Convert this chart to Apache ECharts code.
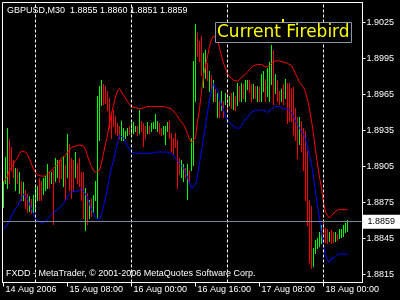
<!DOCTYPE html>
<html><head><meta charset="utf-8">
<style>html,body{margin:0;padding:0;background:#000;}#c{width:400px;height:300px;}</style>
<script src="https://cdn.jsdelivr.net/npm/echarts@6/dist/echarts.min.js"></script>
</head><body><div id="c"></div>
<script>
const symbolName = 'GBPUSD,M30';
const lastBar = [1.8855, 1.8860, 1.8851, 1.8859];
const tickLabels = ['14 Aug 2006','15 Aug 08:00','16 Aug 00:00','16 Aug 16:00','17 Aug 08:00','18 Aug 00:00'];
const tickEvery = 32;
const daySeparators = [16, 64, 112, 160];
const priceTicks = [1.8815,1.8845,1.8875,1.8905,1.8935,1.8965,1.8995,1.9025];
const priceMin = 1.88083, priceMax = 1.90417;
const currentPrice = 1.8859;
const slotCount = 180;
const footerText = 'FXDD - MetaTrader, \u00a9 2001-2006 MetaQuotes Software Corp.';
const indicatorLabel = 'Current Firebird';

const upperBand = [1.8892,1.8893,1.8897,1.8902,1.8904,1.8907,1.8910,1.8912,1.8916,1.8918,
 1.8919,1.8917,1.8915,1.8911,1.8907,1.8903,1.8900,1.8898,1.8897,1.8897,
 1.8897,1.8897,1.8899,1.8900,1.8902,1.8903,1.8905,1.8907,1.8909,1.8912,
 1.8912,1.8914,1.8917,1.8919,1.8921,1.8922,1.8922,1.8922,1.8923,1.8924,
 1.8922,1.8919,1.8914,1.8909,1.8905,1.8902,1.8900,1.8899,1.8902,1.8908,
 1.8916,1.8924,1.8931,1.8941,1.8949,1.8956,1.8963,1.8968,1.8970,1.8967,
 1.8966,1.8962,1.8959,1.8957,1.8955,1.8954,1.8954,1.8953,1.8953,1.8954,
 1.8954,1.8955,1.8955,1.8955,1.8955,1.8955,1.8955,1.8955,1.8955,1.8955,
 1.8955,1.8955,1.8954,1.8954,1.8953,1.8952,1.8949,1.8947,1.8944,1.8942,
 1.8940,1.8937,1.8932,1.8928,1.8925,1.8924,1.8929,1.8942,1.8953,1.8967,
 1.8981,1.8989,1.8997,1.9005,1.9011,1.9014,1.9013,1.9010,1.9004,1.8997,
 1.8991,1.8987,1.8982,1.8980,1.8979,1.8977,1.8977,1.8976,1.8977,1.8979,
 1.8980,1.8982,1.8984,1.8986,1.8987,1.8989,1.8990,1.8990,1.8990,1.8990,
 1.8989,1.8988,1.8988,1.8989,1.8991,1.8992,1.8993,1.8993,1.8993,1.8993,
 1.8992,1.8991,1.8991,1.8991,1.8989,1.8986,1.8982,1.8979,1.8975,1.8973,
 1.8971,1.8967,1.8961,1.8953,1.8943,1.8932,1.8919,1.8907,1.8896,1.8887,
 1.8875,1.8867,1.8864,1.8862,1.8864,1.8866,1.8867,1.8869,1.8869,1.8869,
 1.8869,1.8869,1.8869];

const lowerBand = [1.8853,1.8854,1.8857,1.8860,1.8864,1.8867,1.8870,1.8872,1.8875,1.8879,
 1.8882,1.8881,1.8878,1.8874,1.8870,1.8865,1.8862,1.8860,1.8859,1.8858,
 1.8858,1.8859,1.8861,1.8862,1.8865,1.8867,1.8868,1.8869,1.8871,1.8872,
 1.8874,1.8877,1.8880,1.8882,1.8884,1.8884,1.8884,1.8883,1.8885,1.8887,
 1.8887,1.8882,1.8879,1.8874,1.8869,1.8866,1.8862,1.8861,1.8861,1.8865,
 1.8872,1.8879,1.8887,1.8896,1.8904,1.8910,1.8917,1.8925,1.8931,1.8932,
 1.8929,1.8925,1.8922,1.8919,1.8917,1.8917,1.8916,1.8916,1.8916,1.8916,
 1.8916,1.8916,1.8916,1.8916,1.8916,1.8917,1.8917,1.8917,1.8917,1.8917,
 1.8917,1.8917,1.8917,1.8917,1.8916,1.8915,1.8912,1.8911,1.8907,1.8906,
 1.8904,1.8900,1.8896,1.8891,1.8887,1.8887,1.8890,1.8897,1.8908,1.8918,
 1.8929,1.8939,1.8950,1.8961,1.8968,1.8974,1.8973,1.8969,1.8962,1.8957,
 1.8952,1.8947,1.8943,1.8942,1.8940,1.8939,1.8937,1.8936,1.8937,1.8939,
 1.8942,1.8943,1.8946,1.8948,1.8950,1.8951,1.8952,1.8952,1.8952,1.8952,
 1.8952,1.8951,1.8950,1.8951,1.8953,1.8954,1.8955,1.8955,1.8955,1.8955,
 1.8953,1.8953,1.8953,1.8953,1.8950,1.8947,1.8943,1.8940,1.8937,1.8934,
 1.8932,1.8928,1.8921,1.8914,1.8907,1.8896,1.8884,1.8872,1.8862,1.8850,
 1.8839,1.8831,1.8827,1.8825,1.8828,1.8829,1.8830,1.8832,1.8832,1.8832,
 1.8832,1.8832,1.8832];

const highs = [1.8893,1.8913,1.8937,1.8928,1.8921,1.8910,1.8904,1.8903,1.8900,1.8893,
 1.8892,1.8885,1.8882,1.8880,1.8878,1.8881,1.8889,1.8889,1.8895,1.8893,
 1.8895,1.8897,1.8907,1.8900,1.8900,1.8902,1.8912,1.8910,1.8910,1.8910,
 1.8914,1.8906,1.8932,1.8924,1.8912,1.8910,1.8917,1.8908,1.8912,1.8900,
 1.8900,1.8887,1.8883,1.8877,1.8878,1.8881,1.8893,1.8964,1.8972,1.8977,
 1.8974,1.8972,1.8968,1.8962,1.8949,1.8952,1.8947,1.8941,1.8939,1.8943,
 1.8937,1.8935,1.8937,1.8939,1.8941,1.8942,1.8939,1.8939,1.8952,1.8943,
 1.8941,1.8939,1.8942,1.8939,1.8941,1.8942,1.8949,1.8943,1.8941,1.8937,
 1.8939,1.8939,1.8942,1.8943,1.8933,1.8929,1.8933,1.8927,1.8912,1.8910,
 1.8907,1.8904,1.8907,1.8902,1.8929,1.8993,1.9024,1.9016,1.9010,1.9014,
 1.9000,1.9002,1.8991,1.8985,1.8981,1.8977,1.8970,1.8966,1.8960,1.8968,
 1.8960,1.8966,1.8966,1.8964,1.8966,1.8967,1.8964,1.8975,1.8972,1.8975,
 1.8974,1.8977,1.8977,1.8977,1.8974,1.8974,1.8972,1.8972,1.8971,1.8982,
 1.8985,1.8978,1.8987,1.8992,1.9006,1.9002,1.8982,1.8977,1.8968,1.8970,
 1.8974,1.8978,1.8975,1.8975,1.8970,1.8971,1.8954,1.8946,1.8946,1.8943,
 1.8937,1.8935,1.8918,1.8877,1.8872,1.8837,1.8844,1.8845,1.8850,1.8856,
 1.8858,1.8854,1.8853,1.8850,1.8852,1.8850,1.8850,1.8849,1.8853,1.8853,
 1.8856,1.8858,1.8860];

const lows = [1.8871,1.8891,1.8887,1.8891,1.8902,1.8896,1.8885,1.8891,1.8883,1.8877,
 1.8877,1.8870,1.8867,1.8868,1.8866,1.8867,1.8868,1.8877,1.8877,1.8877,
 1.8882,1.8885,1.8887,1.8887,1.8891,1.8857,1.8893,1.8896,1.8892,1.8895,
 1.8889,1.8877,1.8896,1.8885,1.8879,1.8885,1.8896,1.8891,1.8889,1.8877,
 1.8862,1.8852,1.8857,1.8862,1.8864,1.8867,1.8877,1.8862,1.8927,1.8956,
 1.8957,1.8958,1.8952,1.8937,1.8929,1.8939,1.8933,1.8931,1.8929,1.8927,
 1.8927,1.8929,1.8931,1.8932,1.8933,1.8933,1.8935,1.8931,1.8933,1.8935,
 1.8922,1.8929,1.8933,1.8933,1.8935,1.8937,1.8937,1.8935,1.8933,1.8931,
 1.8932,1.8924,1.8935,1.8929,1.8918,1.8916,1.8921,1.8887,1.8899,1.8896,
 1.8893,1.8896,1.8878,1.8891,1.8902,1.8906,1.8960,1.8997,1.8993,1.8981,
 1.8971,1.8979,1.8977,1.8968,1.8967,1.8960,1.8960,1.8946,1.8946,1.8952,
 1.8946,1.8957,1.8952,1.8956,1.8954,1.8953,1.8952,1.8956,1.8960,1.8960,
 1.8962,1.8960,1.8970,1.8967,1.8960,1.8962,1.8962,1.8960,1.8960,1.8960,
 1.8968,1.8960,1.8964,1.8960,1.8974,1.8957,1.8966,1.8960,1.8957,1.8960,
 1.8957,1.8962,1.8941,1.8943,1.8943,1.8932,1.8927,1.8912,1.8924,1.8918,
 1.8902,1.8877,1.8856,1.8825,1.8820,1.8822,1.8833,1.8837,1.8839,1.8841,
 1.8847,1.8842,1.8841,1.8843,1.8841,1.8842,1.8843,1.8844,1.8845,1.8846,
 1.8847,1.8850,1.8851];

const barUp = [1,1,1,0,0,0,1,0,1,0,
 1,0,0,1,0,1,1,1,0,0,
 1,1,1,0,1,0,1,1,0,0,
 1,0,1,0,0,0,1,0,0,0,
 0,1,0,1,0,1,1,1,1,1,
 0,0,0,0,0,0,0,0,0,1,
 1,1,1,0,1,1,1,0,1,0,
 0,0,1,0,1,1,1,1,0,0,
 1,1,1,0,0,0,0,0,0,1,
 1,0,1,0,1,1,1,0,0,0,
 1,1,0,1,0,1,0,1,0,1,
 0,1,0,1,0,1,0,1,0,1,
 0,1,1,0,0,1,0,1,0,1,
 1,0,1,1,1,0,1,0,0,1,
 0,1,0,0,0,0,0,0,1,0,
 0,0,0,0,0,1,1,1,1,1,
 0,0,0,1,0,0,1,0,1,1,
 1,1,1];

const FONT = '"Liberation Sans", Arial, sans-serif';
const cats = Array.from({length: slotCount}, (_, i) => String(i));
const barData = highs.map((h, i) => [i, h, lows[i], barUp[i]]);

const chart = echarts.init(document.getElementById('c'), null, {renderer: 'canvas'});
chart.setOption({
  animation: false,
  backgroundColor: '#000',
  grid: {left: 2.5, top: 2.5, width: 360, height: 280, show: true, borderColor: '#fff', borderWidth: 1, backgroundColor: 'transparent'},
  xAxis: {
    type: 'category', data: cats, boundaryGap: true,
    axisLine: {show: true, lineStyle: {color: '#fff', width: 1}},
    axisTick: {show: true, alignWithLabel: true, interval: (i) => i % tickEvery === 0, length: 4, lineStyle: {color: '#fff'}},
    axisLabel: {interval: (i) => i % tickEvery === 0, formatter: (v, i) => tickLabels[Math.round(Number(v) / tickEvery)] || '',
      color: '#fff', fontFamily: FONT, fontSize: 9, align: 'left', margin: 3, padding: [0, 0, 0, 2]},
    splitLine: {show: false}
  },
  yAxis: {
    type: 'value', position: 'right', min: priceMin, max: priceMax,
    axisLine: {show: true, lineStyle: {color: '#fff', width: 1}},
    axisTick: {show: true, length: 3, customValues: priceTicks, lineStyle: {color: '#fff'}},
    axisLabel: {customValues: priceTicks, formatter: (v) => Number(v).toFixed(4), color: '#fff', fontFamily: FONT, fontSize: 9, margin: 4},
    splitLine: {show: false}
  },
  series: [
    {
      type: 'custom', data: barData, encode: {x: 0, y: [1, 2]}, z: 2, silent: true,
      renderItem: (p, api) => {
        const hi = api.coord([api.value(0), api.value(1)]);
        const lo = api.coord([api.value(0), api.value(2)]);
        const x = Math.floor(hi[0]) + 0.5;
        return {type: 'line', shape: {x1: x, y1: Math.round(hi[1]), x2: x, y2: Math.round(lo[1]) + 1},
          style: {stroke: api.value(3) ? '#00ff00' : '#ff0000', lineWidth: 1}};
      },
      markLine: {
        silent: true, symbol: 'none', animation: false,
        label: {show: false},
        lineStyle: {color: '#fff', width: 1, type: [3, 2]},
        data: daySeparators.map(i => ({xAxis: String(i)}))
      }
    },
    {
      type: 'line', data: upperBand, symbol: 'none', showSymbol: false, z: 3, silent: true,
      lineStyle: {color: '#ff0000', width: 1}
    },
    {
      type: 'line', data: lowerBand, symbol: 'none', showSymbol: false, z: 3, silent: true,
      lineStyle: {color: '#0000ff', width: 1},
      markLine: {
        silent: true, symbol: 'none', animation: false, precision: 5,
        lineStyle: {color: '#778899', width: 1, type: 'solid'},
        label: {position: 'end', formatter: currentPrice.toFixed(4), backgroundColor: '#fff', color: '#000',
          padding: [3, 5, 2, 5], fontFamily: FONT, fontSize: 9, distance: 0},
        data: [{yAxis: currentPrice}]
      }
    }
  ],
  graphic: [
    {type: 'text', x: 7, y: 11, z: 100, style: {text: symbolName + '  ' + lastBar.map(v => v.toFixed(4)).join(' '),
      fill: '#fff', font: '9px ' + FONT, verticalAlign: 'middle'}},
    {type: 'text', x: 6, y: 274, z: 100, style: {text: footerText, fill: '#fff', font: '9px ' + FONT, verticalAlign: 'middle'}},
    {type: 'rect', z: 100, shape: {x: 215.5, y: 22.5, width: 136, height: 20}, style: {fill: '#000', stroke: '#8a96a6', lineWidth: 1}},
    {type: 'text', x: 217, y: 33, z: 101, style: {text: indicatorLabel, fill: '#ffff00', font: '17px "DejaVu Sans", sans-serif', verticalAlign: 'middle'}},
    {type: 'rect', z: 102, shape: {x: 282, y: 19, width: 2, height: 3}, style: {fill: '#ffff00'}}
  ]
});
</script>
</body></html>
